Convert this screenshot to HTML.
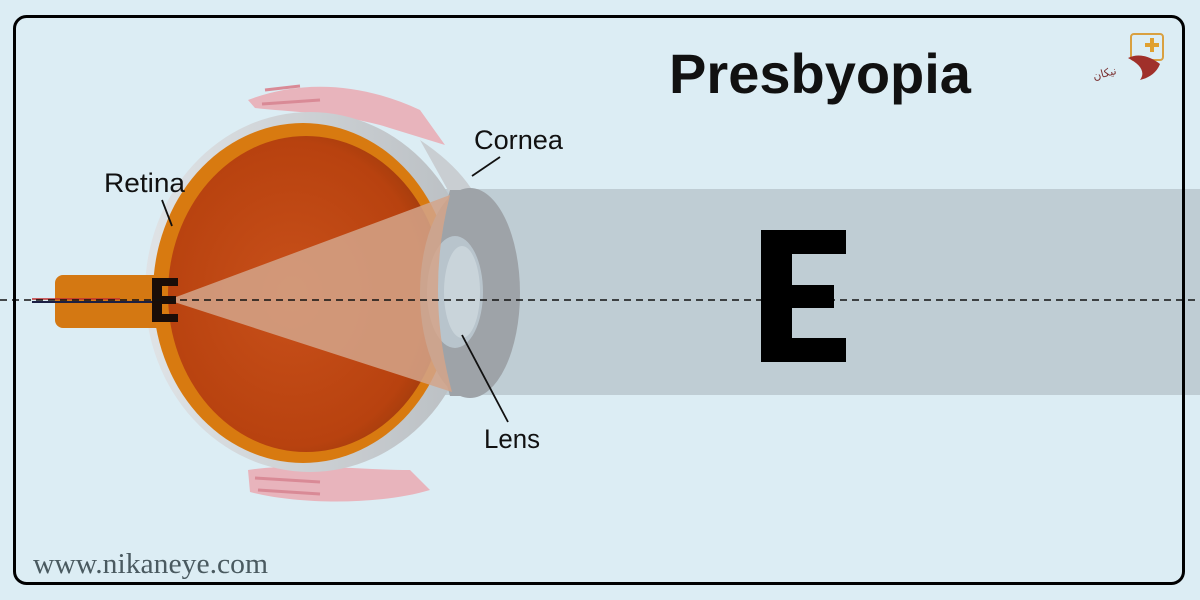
<!DOCTYPE html>
<html><head><meta charset="utf-8"><style>
html,body{margin:0;padding:0;background:#dcedf4;width:1200px;height:600px;overflow:hidden}
svg{display:block}
</style></head><body>
<svg width="1200" height="600" viewBox="0 0 1200 600" xmlns="http://www.w3.org/2000/svg">
<defs>
<radialGradient id="org" cx="0.45" cy="0.5" r="0.6">
<stop offset="0" stop-color="#c8501a"/><stop offset="0.8" stop-color="#b8420f"/><stop offset="1" stop-color="#9a3a0c"/>
</radialGradient>
<linearGradient id="scl" x1="0" y1="0" x2="1" y2="0">
<stop offset="0" stop-color="#dfe3e6"/><stop offset="1" stop-color="#b9bec2"/>
</linearGradient>
</defs>
<rect width="1200" height="600" fill="#dcedf4"/>
<rect x="440" y="189" width="760" height="206" fill="#bfcdd4"/>
<path d="M248 100 C300 80 360 82 420 110 L445 145 L380 125 C330 112 290 112 255 108 Z" fill="#e8b4bc"/>
<path d="M265 90 L300 86 M262 104 L320 100" stroke="#d98a96" stroke-width="3"/>
<path d="M248 470 C300 462 360 470 410 470 L430 490 C380 505 300 505 250 492 Z" fill="#e8b4bc"/>
<path d="M255 478 L320 482 M258 490 L320 494" stroke="#d98a96" stroke-width="3"/>
<ellipse cx="310" cy="292" rx="165" ry="180" fill="url(#scl)"/>
<path d="M420 140 Q480 180 488 230 L470 230 Z" fill="#c9ced2"/>
<rect x="55" y="275" width="110" height="53" rx="8" fill="#d47812"/>
<line x1="32" y1="302" x2="160" y2="302" stroke="#1c2044" stroke-width="2"/>
<line x1="32" y1="299" x2="120" y2="299" stroke="#c03030" stroke-width="1.5"/>
<ellipse cx="303" cy="293" rx="150" ry="170" fill="#d87a10"/>
<ellipse cx="306" cy="294" rx="138" ry="158" fill="url(#org)"/>
<ellipse cx="470" cy="293" rx="50" ry="105" fill="#9ea3a8"/>
<path d="M450 190 Q420 293 450 396 L470 396 L470 190 Z" fill="#9ea3a8"/>
<ellipse cx="455" cy="292" rx="28" ry="56" fill="#b8c4cc"/>
<ellipse cx="462" cy="292" rx="18" ry="46" fill="#c9d4da"/>
<path d="M168 300 L450 195 Q425 293 452 392 Z" fill="#d4a58a" opacity="0.85"/>
<path d="M152 278 h26 v8 h-16 v10 h14 v8 h-14 v10 h16 v8 h-26 Z" fill="#1a0d08"/>
<line x1="0" y1="300" x2="1200" y2="300" stroke="#111" stroke-width="1.6" stroke-dasharray="7,5"/>
<path d="M761 230 H846 V254 H792 V285 H834 V308 H792 V338 H846 V362 H761 Z" fill="#000"/>
<g font-family="Liberation Sans, sans-serif" font-size="27" fill="#111">
<text x="104" y="192" textLength="81" lengthAdjust="spacingAndGlyphs">Retina</text>
<text x="474" y="149" textLength="89" lengthAdjust="spacingAndGlyphs">Cornea</text>
<text x="484" y="448" textLength="56" lengthAdjust="spacingAndGlyphs">Lens</text>
</g>
<g stroke="#111" stroke-width="1.8">
<line x1="162" y1="200" x2="172" y2="226"/>
<line x1="500" y1="157" x2="472" y2="176"/>
<line x1="462" y1="335" x2="508" y2="422"/>
</g>
<text x="820" y="93" text-anchor="middle" font-family="Liberation Sans, sans-serif" font-weight="bold" font-size="56" fill="#111">Presbyopia</text>
<text x="33" y="573" font-family="Liberation Serif, serif" font-size="29" fill="#4a5a60" textLength="235" lengthAdjust="spacingAndGlyphs">www.nikaneye.com</text>
<rect x="1131" y="34" width="32" height="26" rx="3" fill="none" stroke="#d9a040" stroke-width="2"/>
<path d="M1150 38 h4 v5 h5 v4 h-5 v5 h-4 v-5 h-5 v-4 h5 z" fill="#e0a030"/>
<path d="M1128 58 C1140 52 1152 58 1160 64 C1156 74 1148 78 1140 80 C1146 72 1140 64 1128 58 Z" fill="#a0302a"/>
<text x="1094" y="80" font-family="DejaVu Sans, sans-serif" font-size="11" fill="#7a3030" transform="rotate(-15 1094 80)">نیکان</text>
<rect x="14.5" y="16.5" width="1169" height="567" rx="12" fill="none" stroke="#000" stroke-width="3"/>
</svg>
</body></html>
